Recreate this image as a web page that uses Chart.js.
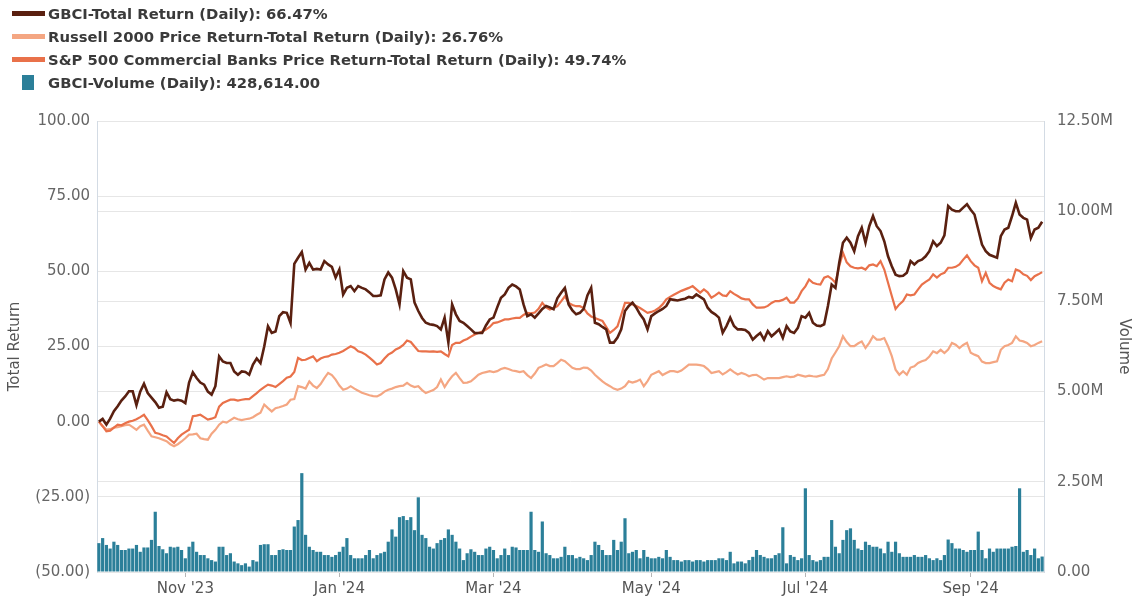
<!DOCTYPE html>
<html>
<head>
<meta charset="utf-8">
<title>GBCI total return vs indices</title>
<script src="https://cdn.jsdelivr.net/npm/chart.js@4.4.1/dist/chart.umd.min.js"></script>
<style>
  html, body { margin: 0; padding: 0; background: #fff; }
  #wrap { position: relative; width: 1133px; height: 607px; }
  #legend { position: absolute; left: 0; top: 2px; font-family: "DejaVu Sans", sans-serif; font-size: 14.8px; font-weight: bold; color: #3a3a3a; }
  .row { position: relative; height: 23px; line-height: 23px; padding-left: 48px; white-space: nowrap; }
  .sw { position: absolute; }
</style>
</head>
<body>
<div id="wrap">
  <canvas id="hrvChart" width="1133" height="607"></canvas>
  <div id="legend"></div>
</div>
<script>
// trading days Sep 29 2023 - Sep 30 2024
const startDate = "2023-09-29";
const endDate = "2024-09-30";
const marketHolidays = ["2023-11-23", "2023-12-25", "2024-01-01", "2024-01-15", "2024-02-19",
  "2024-03-29", "2024-05-27", "2024-06-19", "2024-07-04", "2024-09-02"];

const tickDates = ["2023-11-01", "2024-01-02", "2024-03-01", "2024-05-01", "2024-07-01", "2024-09-03"];
const tickLabels = ["Nov '23", "Jan '24", "Mar '24", "May '24", "Jul '24", "Sep '24"];

const seriesNames = [
  "GBCI-Total Return (Daily)",
  "Russell 2000 Price Return-Total Return (Daily)",
  "S&P 500 Commercial Banks Price Return-Total Return (Daily)",
  "GBCI-Volume (Daily)"
];

const gbciReturn = [
  0.0, 0.9, -1.0, 1.0, 3.5, 5.1, 7.0, 8.4, 10.1, 10.1,
  5.5, 10.0, 12.6, 9.5, 8.0, 6.5, 4.6, 5.0, 9.8, 7.5,
  7.0, 7.3, 7.0, 6.2, 13.0, 16.4, 14.5, 13.0, 12.3, 10.0,
  9.0, 11.8, 21.7, 20.0, 19.5, 19.5, 16.7, 15.6, 16.7, 16.5,
  15.6, 19.0, 21.0, 19.5, 25.0, 31.7, 29.5, 30.0, 35.1, 36.4,
  36.2, 32.8, 52.5, 54.5, 56.4, 50.6, 52.8, 50.6, 50.8, 50.6,
  53.4, 52.3, 51.5, 47.9, 50.6, 42.3, 44.5, 45.1, 43.4, 45.1,
  44.5, 44.0, 43.0, 41.8, 41.8, 42.0, 47.3, 49.6, 47.9, 44.0,
  39.0, 50.1, 47.9, 47.3, 39.6, 36.8, 34.5, 32.9, 32.4, 32.2,
  31.8, 30.7, 34.6, 26.3, 39.0, 35.7, 33.5, 32.9, 31.8, 30.7,
  29.5, 29.5, 29.5, 32.0, 34.0, 34.6, 38.0, 41.2, 42.3, 44.5,
  45.6, 45.0, 44.0, 39.0, 35.1, 35.7, 34.6, 36.0, 37.5, 38.5,
  38.0, 37.4, 41.0, 42.9, 44.5, 39.0, 37.0, 35.7, 36.2, 37.5,
  42.0, 44.5, 32.9, 32.4, 31.5, 30.7, 26.3, 26.3, 28.0, 30.7,
  36.8, 38.5, 39.6, 37.9, 35.7, 34.0, 30.7, 35.1, 36.0, 36.8,
  37.5, 38.5, 40.7, 40.5, 40.3, 40.6, 40.9, 41.5, 41.2, 42.3,
  41.5, 40.7, 37.9, 36.5, 35.7, 34.6, 29.6, 31.8, 34.6, 31.8,
  30.7, 30.7, 30.5, 29.5, 27.3, 28.5, 29.5, 27.3, 30.1, 28.4,
  29.5, 30.7, 27.9, 31.8, 30.0, 29.5, 31.2, 35.1, 34.6, 36.2,
  32.9, 32.0, 31.8, 32.4, 38.5, 45.6, 44.5, 52.8, 59.5, 61.2,
  59.5, 56.7, 61.7, 64.5, 59.5, 65.0, 68.4, 65.0, 63.4, 60.0,
  55.0, 51.7, 48.9, 48.4, 48.5, 49.5, 53.4, 52.3, 53.4, 53.9,
  55.0, 56.7, 60.0, 58.4, 59.5, 62.0, 71.7, 70.5, 70.0, 70.0,
  71.2, 72.3, 70.5, 68.9, 63.9, 58.9, 56.7, 55.5, 55.0, 54.5,
  61.7, 63.9, 64.5, 68.4, 72.8, 68.9, 67.8, 67.2, 61.1, 63.9,
  64.5, 66.47
];

const russellReturn = [
  0.0, -1.5, -2.6, -2.5, -2.0, -1.8, -1.5, -1.2, -1.0, -1.8,
  -2.7, -1.5, -1.0, -3.0, -4.9, -5.2, -5.5, -6.0, -6.5, -7.5,
  -8.2, -7.5, -6.6, -5.5, -4.3, -4.2, -4.0, -5.5, -5.8, -6.0,
  -4.0, -2.7, -1.0, 0.0, -0.3, 0.5, 1.3, 0.8, 0.5, 0.8,
  1.0, 1.5, 2.3, 3.0, 5.7, 4.5, 3.4, 4.5, 4.8, 5.2,
  5.7, 7.3, 7.5, 11.8, 11.5, 11.0, 13.4, 12.0, 11.2, 12.5,
  14.5, 16.2, 15.5, 14.0, 12.0, 10.6, 11.0, 11.8, 11.0, 10.3,
  9.6, 9.2, 8.8, 8.5, 8.4, 9.0, 10.0, 10.6, 11.0, 11.5,
  11.8, 12.0, 12.9, 12.0, 11.5, 11.8, 10.5, 9.5, 10.0, 10.5,
  11.5, 14.0, 11.5, 13.5, 15.1, 16.2, 14.5, 12.9, 13.0, 13.4,
  14.5, 15.6, 16.2, 16.5, 16.8, 16.5, 16.8, 17.5, 17.9, 17.5,
  17.0, 16.8, 16.5, 16.8, 15.5, 14.5, 16.0, 17.9, 18.4, 19.0,
  18.5, 18.5, 19.5, 20.6, 20.1, 19.0, 17.9, 17.5, 17.5, 18.0,
  17.9, 17.0, 15.6, 14.5, 13.4, 12.5, 11.8, 11.0, 10.6, 11.0,
  11.8, 13.4, 13.0, 13.4, 14.0, 11.8, 13.5, 15.6, 16.2, 16.8,
  15.5, 16.2, 16.8, 16.8, 16.5, 17.0, 18.0, 19.0, 19.0, 19.0,
  18.8, 18.5, 17.5, 16.2, 16.5, 16.8, 15.7, 16.5, 17.4, 16.5,
  15.7, 16.2, 15.8, 15.1, 15.5, 15.6, 14.8, 14.0, 14.5, 14.5,
  14.5, 14.5, 14.8, 15.1, 14.8, 15.0, 15.6, 15.3, 15.0, 15.3,
  15.1, 15.0, 15.3, 15.6, 17.5, 21.0, 23.0, 25.1, 28.4, 26.5,
  25.1, 25.1, 26.0, 26.7, 24.5, 26.2, 28.4, 27.3, 27.3, 27.8,
  25.1, 21.8, 17.3, 15.6, 16.8, 15.6, 18.0, 18.4, 19.5, 20.1,
  20.5, 21.7, 23.4, 22.8, 23.9, 22.8, 24.0, 26.2, 25.6, 24.5,
  25.5, 26.2, 22.9, 22.3, 21.8, 20.0, 19.5, 19.5, 19.8, 20.1,
  23.9, 25.1, 25.5, 26.2, 28.4, 27.0, 26.7, 26.2, 25.1, 25.5,
  26.2, 26.76
];

const banksReturn = [
  0.0, -1.5, -3.2, -3.0, -2.0, -1.0, -1.2, -0.5, 0.0, 0.3,
  0.8, 1.5, 2.3, 0.5, -1.5, -3.7, -4.0, -4.5, -4.9, -6.0,
  -7.1, -5.5, -4.3, -3.5, -2.7, 1.8, 2.0, 2.3, 1.5, 0.7,
  1.0, 1.5, 5.0, 6.2, 6.8, 7.3, 7.3, 7.0, 7.3, 7.5,
  7.5, 8.5, 9.5, 10.6, 11.5, 12.3, 12.0, 11.5, 12.5, 13.5,
  14.6, 15.0, 16.5, 21.2, 20.5, 20.6, 21.2, 21.7, 20.1, 21.0,
  21.5, 21.7, 22.3, 22.5, 22.9, 23.5, 24.3, 25.1, 24.5, 23.4,
  23.0, 22.3, 21.3, 20.2, 19.0, 19.5, 21.0, 22.3, 23.0, 24.0,
  24.6, 25.5, 27.0, 26.5, 25.0, 23.5, 23.4, 23.4, 23.3, 23.4,
  23.2, 23.4, 22.5, 21.7, 25.5, 26.2, 26.2, 27.0, 27.5, 28.3,
  29.0, 29.5, 30.0, 30.6, 31.5, 32.8, 33.0, 33.5, 34.0, 34.0,
  34.3, 34.5, 34.5, 35.5, 36.2, 36.0, 36.3, 37.5, 39.5, 38.0,
  37.3, 37.8, 38.4, 40.0, 41.7, 39.5, 38.8, 38.4, 38.4, 37.8,
  36.0, 35.0, 34.5, 34.0, 33.5, 31.5, 29.5, 30.5, 31.7, 35.5,
  39.5, 39.5, 39.0, 38.5, 37.8, 37.0, 36.2, 36.5, 37.0, 37.8,
  39.0, 40.7, 41.5, 42.2, 42.9, 43.5, 44.0, 44.5, 45.1, 44.0,
  42.9, 44.0, 43.0, 41.2, 42.0, 42.9, 42.0, 41.8, 43.4, 42.5,
  41.8, 41.0, 40.7, 40.7, 39.0, 37.9, 37.9, 38.0, 38.5, 39.5,
  40.1, 40.1, 40.5, 41.2, 39.6, 39.6, 41.0, 43.4, 45.0, 47.3,
  46.2, 45.8, 45.6, 47.9, 48.4, 47.5, 46.2, 51.7, 56.2, 53.0,
  51.7, 51.2, 51.0, 51.2, 50.6, 52.0, 52.3, 51.7, 53.4, 50.6,
  46.2, 41.8, 37.5, 39.0, 40.1, 42.3, 42.0, 42.3, 44.0, 45.6,
  46.5, 47.3, 49.0, 47.9, 49.0, 49.5, 51.2, 51.2, 51.5, 52.3,
  53.9, 55.3, 53.4, 52.0, 51.2, 46.7, 49.5, 46.2, 45.1, 44.5,
  44.0, 46.2, 47.3, 46.7, 50.6, 50.1, 49.0, 48.5, 47.1, 48.4,
  49.0, 49.74
];

// millions of shares
const gbciVolumeM = [
  0.80, 0.94, 0.75, 0.65, 0.84, 0.75, 0.61, 0.61, 0.65, 0.65,
  0.75, 0.56, 0.68, 0.68, 0.89, 1.67, 0.72, 0.63, 0.52, 0.70,
  0.68, 0.70, 0.61, 0.38, 0.70, 0.84, 0.56, 0.47, 0.47, 0.38,
  0.33, 0.29, 0.70, 0.70, 0.47, 0.52, 0.29, 0.24, 0.19, 0.24,
  0.15, 0.33, 0.29, 0.75, 0.77, 0.77, 0.47, 0.47, 0.61, 0.63,
  0.61, 0.61, 1.26, 1.44, 2.74, 1.03, 0.70, 0.61, 0.56, 0.56,
  0.47, 0.47, 0.42, 0.47, 0.56, 0.70, 0.94, 0.47, 0.38, 0.38,
  0.38, 0.47, 0.61, 0.38, 0.47, 0.52, 0.56, 0.84, 1.18, 0.98,
  1.52, 1.55, 1.44, 1.52, 1.16, 2.07, 1.03, 0.94, 0.70, 0.65,
  0.80, 0.89, 0.94, 1.18, 1.03, 0.84, 0.65, 0.33, 0.52, 0.63,
  0.56, 0.47, 0.47, 0.65, 0.70, 0.61, 0.38, 0.47, 0.65, 0.47,
  0.70, 0.68, 0.61, 0.61, 0.61, 1.67, 0.61, 0.56, 1.40, 0.52,
  0.47, 0.38, 0.38, 0.42, 0.70, 0.47, 0.47, 0.38, 0.42, 0.38,
  0.33, 0.47, 0.84, 0.75, 0.61, 0.47, 0.47, 0.89, 0.61, 0.84,
  1.49, 0.52, 0.56, 0.61, 0.38, 0.61, 0.42, 0.38, 0.38, 0.42,
  0.38, 0.61, 0.42, 0.33, 0.33, 0.29, 0.33, 0.33, 0.29, 0.33,
  0.33, 0.29, 0.33, 0.33, 0.33, 0.38, 0.38, 0.33, 0.56, 0.24,
  0.29, 0.29, 0.24, 0.33, 0.42, 0.61, 0.47, 0.42, 0.38, 0.38,
  0.47, 0.52, 1.24, 0.24, 0.47, 0.42, 0.33, 0.38, 2.32, 0.47,
  0.33, 0.29, 0.33, 0.42, 0.42, 1.44, 0.70, 0.52, 0.89, 1.16,
  1.21, 0.89, 0.65, 0.61, 0.84, 0.75, 0.70, 0.70, 0.65, 0.52,
  0.84, 0.56, 0.84, 0.52, 0.42, 0.42, 0.42, 0.47, 0.42, 0.42,
  0.47, 0.38, 0.33, 0.38, 0.33, 0.47, 0.90, 0.80, 0.65, 0.65,
  0.61, 0.56, 0.61, 0.61, 1.12, 0.61, 0.38, 0.65, 0.56, 0.65,
  0.65, 0.65, 0.65, 0.70, 0.72, 2.32, 0.56, 0.61, 0.47, 0.65,
  0.38, 0.428614
];

const colors = ["#5a2010", "#f4a682", "#e9714a", "#2b7f99"];

function buildTradingDays(from, to) {
  const days = [];
  const end = new Date(to + "T00:00:00Z");
  for (let d = new Date(from + "T00:00:00Z"); d <= end; d.setUTCDate(d.getUTCDate() + 1)) {
    const wd = d.getUTCDay();
    const iso = d.toISOString().slice(0, 10);
    if (wd !== 0 && wd !== 6 && !marketHolidays.includes(iso)) days.push(iso);
  }
  return days;
}

function fmtReturn(v) {
  const s = Math.abs(v).toFixed(2);
  return v < 0 ? "(" + s + ")" : s;
}

function buildLegend() {
  const last = arr => arr[arr.length - 1];
  const texts = [
    seriesNames[0] + ": " + last(gbciReturn).toFixed(2) + "%",
    seriesNames[1] + ": " + last(russellReturn).toFixed(2) + "%",
    seriesNames[2] + ": " + last(banksReturn).toFixed(2) + "%",
    seriesNames[3] + ": " + (last(gbciVolumeM) * 1e6).toLocaleString("en-US", { minimumFractionDigits: 2, maximumFractionDigits: 2 })
  ];
  const box = document.getElementById("legend");
  texts.forEach((t, i) => {
    const row = document.createElement("div");
    row.className = "row";
    const sw = document.createElement("span");
    sw.className = "sw";
    sw.style.background = colors[i];
    if (i < 3) {
      sw.style.left = "12px"; sw.style.width = "33px"; sw.style.top = "9px"; sw.style.height = "5px";
    } else {
      sw.style.left = "22px"; sw.style.width = "12px"; sw.style.top = "4px"; sw.style.height = "15px";
    }
    row.appendChild(sw);
    row.appendChild(document.createTextNode(t));
    box.appendChild(row);
  });
}

let chart;

function createChart() {
  const labels = buildTradingDays(startDate, endDate);
  const tickFont = { family: "DejaVu Sans", size: 15 };
  const ctx = document.getElementById("hrvChart").getContext("2d");
  chart = new Chart(ctx, {
    data: {
      labels: labels,
      datasets: [
        {
          type: "line",
          label: seriesNames[0],
          data: gbciReturn,
          borderColor: colors[0],
          borderWidth: 2.6,
          pointRadius: 0,
          yAxisID: "yReturn",
          order: 1,
        },
        {
          type: "line",
          label: seriesNames[1],
          data: russellReturn,
          borderColor: colors[1],
          borderWidth: 2.2,
          pointRadius: 0,
          yAxisID: "yReturn",
          order: 3,
        },
        {
          type: "line",
          label: seriesNames[2],
          data: banksReturn,
          borderColor: colors[2],
          borderWidth: 2.2,
          pointRadius: 0,
          yAxisID: "yReturn",
          order: 2,
        },
        {
          type: "bar",
          label: seriesNames[3],
          data: gbciVolumeM,
          backgroundColor: colors[3],
          barPercentage: 0.85,
          categoryPercentage: 1,
          yAxisID: "yVolume",
          order: 10,
        },
      ],
    },
    options: {
      responsive: false,
      animation: false,
      layout: { padding: { top: 121, left: 0, right: 0, bottom: 0 } },
      plugins: { legend: { display: false }, tooltip: { enabled: false } },
      scales: {
        x: {
          type: "category",
          offset: true,
          grid: {
            display: true,
            offset: false,
            drawOnChartArea: false,
            drawTicks: true,
            tickLength: 5,
            // only the month ticks get a visible mark
            color: c => tickDates.includes(labels[c.index]) ? "#b5b5b5" : "rgba(0,0,0,0)",
          },
          border: { display: false },
          ticks: {
            autoSkip: false,
            maxRotation: 0,
            padding: 3,
            color: "#555",
            font: tickFont,
            callback: function (value) {
              const k = tickDates.indexOf(this.getLabelForValue(value));
              return k >= 0 ? tickLabels[k] : "";
            },
          },
          afterFit: s => { s.height = 35; },
        },
        yReturn: {
          type: "linear",
          position: "left",
          min: -50,
          max: 100,
          grid: { color: "#e6e6e6", drawTicks: false },
          border: { display: true, color: "#d3dbe4" },
          ticks: { stepSize: 25, padding: 7, color: "#666", font: tickFont, callback: v => fmtReturn(v) },
          title: { display: true, text: "Total Return", color: "#555", font: { family: "DejaVu Sans", size: 15 }, padding: { top: 6, bottom: 0 } },
          afterFit: s => { s.width = 97; },
        },
        yVolume: {
          type: "linear",
          position: "right",
          min: 0,
          max: 12.5,
          grid: { color: "#e6e6e6", drawTicks: false },
          border: { display: true, color: "#d3dbe4" },
          ticks: { stepSize: 2.5, padding: 13, color: "#666", font: tickFont, callback: v => v === 0 ? "0.00" : v.toFixed(2) + "M" },
          title: { display: true, text: "Volume", color: "#555", font: { family: "DejaVu Sans", size: 15 }, padding: { top: 0, bottom: 0 } },
          afterFit: s => { s.width = 89; },
        },
      },
    },
  });
}

buildLegend();
createChart();
</script>
</body>
</html>
